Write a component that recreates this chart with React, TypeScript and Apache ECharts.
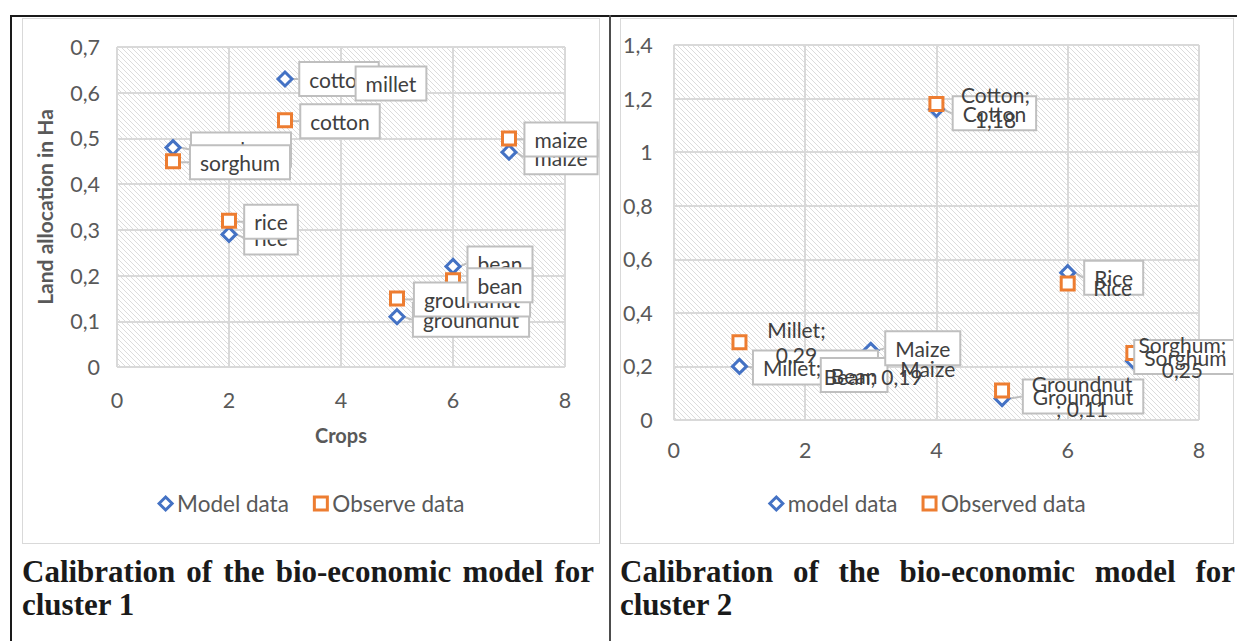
import React, { useEffect, useRef } from 'react';
import * as echarts from 'echarts';

const FONT = 'Lato, "Noto Sans", sans-serif';
const BLUE = '#4472C4';
const ORANGE = '#ED7D31';
const TEXT = '#595959';
const LABEL_TEXT = '#404040';

// ---------- Cluster 1 data ----------
const c1X = [1, 2, 3, 4, 5, 6, 7];
const c1Crops = ['sorghum', 'rice', 'cotton', 'millet', 'groundnut', 'bean', 'maize'];
const c1Model = [0.48, 0.29, 0.63, 0.62, 0.11, 0.22, 0.47];
const c1Observed = [0.45, 0.32, 0.54, null, 0.15, 0.19, 0.5];
const c1ModelLabels = ['sorghum', 'rice', 'cotton', 'millet', 'groundnut', 'bean', 'maize'];
const c1ObservedLabels = ['sorghum', 'rice', 'cotton', '', 'groundnut', 'bean', 'maize'];
const c1Legend = ['Model data', 'Observe data'];

// ---------- Cluster 2 data ----------
const c2X = [1, 2, 3, 4, 5, 6, 7];
const c2Crops = ['Millet', 'Bean', 'Maize', 'Cotton', 'Groundnut', 'Rice', 'Sorghum'];
const c2Model = [0.2, 0.19, 0.26, 1.16, 0.08, 0.55, 0.22];
const c2Observed = [0.29, 0.19, 0.19, 1.18, 0.11, 0.51, 0.25];
const c2ModelLabels = ['Millet; 0,20', 'Bean', 'Maize', 'Cotton', 'Groundnut', 'Rice', 'Sorghum'];
const c2ObservedLabels = ['Millet;\n0,29', 'Bean; 0,19', 'Maize', 'Cotton;\n1,18', 'Groundnut\n; 0,11', 'Rice', 'Sorghum;\n0,25'];
const c2Legend = ['model data', 'Observed data'];

// label offsets (layout only): label centre relative to its point, in px
const c1ModelLabelOffsets = [[68, 2], [42, 3], [54, 0], [50, 0], [74, 3], [47, -3], [52, 5]];
const c1ObservedLabelOffsets = [[67, 1], [42, 1], [55, 1], [0, 0], [75, 1], [47, 5], [52, 1]];
const c2ModelLabelOffsets = [[76, 1], [49, 6], [52, -2], [58, 4], [81, -2], [46, 5], [52, -4]];
const c2ObservedLabelOffsets = [[57, 0], [68, 7], [57, -1], [59, 3], [80, 5], [45, 4], [49, 4]];

function makeHatch(): HTMLCanvasElement {
  const s = 5;
  const c = document.createElement('canvas');
  c.width = s;
  c.height = s;
  const ctx = c.getContext('2d')!;
  ctx.fillStyle = '#ffffff';
  ctx.fillRect(0, 0, s, s);
  ctx.strokeStyle = '#dcdcdc';
  ctx.lineWidth = 1;
  ctx.beginPath();
  ctx.moveTo(-1, -1);
  ctx.lineTo(s + 1, s + 1);
  ctx.moveTo(-1, s - 1);
  ctx.lineTo(1, s + 1);
  ctx.moveTo(s - 1, -1);
  ctx.lineTo(s + 1, 1);
  ctx.stroke();
  return c;
}

const fmt = (v: number) => String(+v.toFixed(2)).replace('.', ',');

function makeSeries(
  name: string,
  xs: number[],
  vals: (number | null)[],
  labels: string[],
  offsets: number[][],
  color: string,
  symbol: string,
  symbolSize: number,
  boxed: boolean
) {
  const items: { value: number[]; name: string; off: number[] }[] = [];
  vals.forEach((v, i) => {
    if (v == null) return;
    items.push({ value: [xs[i], v], name: labels[i], off: offsets[i] });
  });
  return {
    type: 'scatter',
    name,
    symbol,
    symbolSize,
    data: items.map((it) => ({ value: it.value, name: it.name })),
    itemStyle: { color: '#ffffff', borderColor: color, borderWidth: 3, opacity: 1 },
    label: {
      show: true,
      position: 'inside',
      formatter: (p: any) => p.name,
      fontFamily: FONT,
      fontSize: 21,
      lineHeight: 25,
      color: LABEL_TEXT,
      align: 'center',
      ...(boxed
        ? { backgroundColor: '#ffffff', borderColor: '#bfbfbf', borderWidth: 2, padding: [4, 9, 3, 9] }
        : {}),
    },
    labelLine: { show: boxed, lineStyle: { color: '#bfbfbf', width: 2 } },
    labelLayout: (p: any) => {
      const it = items[p.dataIndex];
      return it ? { dx: it.off[0], dy: it.off[1] } : {};
    },
    emphasis: { disabled: true },
  };
}

function buildOption(cfg: any, hatch: HTMLCanvasElement) {
  return {
    animation: false,
    textStyle: { fontFamily: FONT },
    grid: {
      show: true,
      left: cfg.grid[0],
      top: cfg.grid[1],
      width: cfg.grid[2],
      height: cfg.grid[3],
      borderWidth: 0,
      backgroundColor: { image: hatch, repeat: 'repeat', imageWidth: hatch.width, imageHeight: hatch.height },
    },
    legend: {
      data: [
        { name: cfg.legend[0], icon: 'diamond', itemStyle: { color: '#ffffff', borderColor: BLUE, borderWidth: 3 } },
        { name: cfg.legend[1], icon: 'rect', itemStyle: { color: '#ffffff', borderColor: ORANGE, borderWidth: 3 } },
      ],
      bottom: cfg.legendBottom,
      left: 'center',
      itemWidth: 13,
      itemHeight: 13,
      itemGap: 24,
      textStyle: { fontFamily: FONT, fontSize: 22.5, color: TEXT },
    },
    xAxis: {
      type: 'value',
      min: 0,
      max: 8,
      interval: 2,
      name: cfg.xName,
      nameLocation: 'middle',
      nameGap: cfg.xNameGap,
      nameTextStyle: { fontFamily: FONT, fontSize: 20, fontWeight: 'bold', color: TEXT },
      axisLine: { show: false },
      axisTick: { show: false },
      axisLabel: { fontFamily: FONT, fontSize: 21.5, color: TEXT, margin: cfg.xMargin, formatter: fmt },
      splitLine: { show: true, lineStyle: { color: '#d9d9d9', width: 2 } },
    },
    yAxis: {
      type: 'value',
      min: 0,
      max: cfg.yMax,
      interval: cfg.yInterval,
      name: cfg.yName,
      nameLocation: 'middle',
      nameGap: cfg.yNameGap,
      nameTextStyle: { fontFamily: FONT, fontSize: 21, fontWeight: 'bold', color: TEXT },
      axisLine: { show: false },
      axisTick: { show: false },
      axisLabel: { fontFamily: FONT, fontSize: 21.5, color: TEXT, margin: cfg.yMargin, formatter: fmt },
      splitLine: { show: true, lineStyle: { color: '#d9d9d9', width: 2 } },
    },
    series: [
      makeSeries(cfg.legend[0], cfg.x, cfg.model, cfg.modelLabels, cfg.modelOffsets, BLUE, 'diamond', 14, true),
      makeSeries(cfg.legend[1], cfg.x, cfg.observed, cfg.observedLabels, cfg.observedOffsets, ORANGE, 'rect', 13, cfg.observedBoxed),
    ],
  };
}

const line = (l: number, t: number, w: number, h: number, c: string) => (
  <div style={{ position: 'absolute', left: l, top: t, width: w, height: h, background: c }} />
);

export default function App() {
  const r1 = useRef<HTMLDivElement>(null);
  const r2 = useRef<HTMLDivElement>(null);

  useEffect(() => {
    const hatch = makeHatch();
    const c1 = echarts.init(r1.current!, null, { renderer: 'svg' });
    const c2 = echarts.init(r2.current!, null, { renderer: 'svg' });
    c1.setOption(
      buildOption(
        {
          grid: [95, 29, 448, 320],
          legend: c1Legend,
          legendBottom: 24,
          x: c1X,
          model: c1Model,
          observed: c1Observed,
          modelLabels: c1ModelLabels,
          observedLabels: c1ObservedLabels,
          modelOffsets: c1ModelLabelOffsets,
          observedOffsets: c1ObservedLabelOffsets,
          observedBoxed: true,
          yMax: 0.7,
          yInterval: 0.1,
          xName: 'Crops',
          xNameGap: 58,
          yName: 'Land allocation in Ha',
          yNameGap: 62,
          xMargin: 22,
          yMargin: 17,
        },
        hatch
      )
    );
    c2.setOption(
      buildOption(
        {
          grid: [52, 27, 527, 375],
          legend: c2Legend,
          legendBottom: 24,
          x: c2X,
          model: c2Model,
          observed: c2Observed,
          modelLabels: c2ModelLabels,
          observedLabels: c2ObservedLabels,
          modelOffsets: c2ModelLabelOffsets,
          observedOffsets: c2ObservedLabelOffsets,
          observedBoxed: false,
          yMax: 1.4,
          yInterval: 0.2,
          xName: '',
          xNameGap: 30,
          yName: '',
          yNameGap: 30,
          xMargin: 19,
          yMargin: 21,
        },
        hatch
      )
    );
    return () => {
      c1.dispose();
      c2.dispose();
    };
  }, []);

  const caption: React.CSSProperties = {
    position: 'absolute',
    top: 555,
    fontFamily: '"Liberation Serif", "Times New Roman", serif',
    fontWeight: 'bold',
    fontSize: 31,
    lineHeight: '33px',
    textAlign: 'justify',
    color: '#1a1a1a',
  };

  return (
    <div style={{ position: 'absolute', left: 0, top: 0, width: 1237, height: 641, background: '#fff', overflow: 'hidden' }}>
      {line(10, 15, 1227, 2, '#1a1a1a')}
      {line(10, 15, 2, 626, '#1a1a1a')}
      {line(609, 15, 2, 626, '#4d4d4d')}
      <div ref={r1} style={{ position: 'absolute', left: 22, top: 18, width: 578, height: 526 }} />
      <div ref={r2} style={{ position: 'absolute', left: 620, top: 18, width: 614, height: 526 }} />
      <div style={{ position: 'absolute', left: 22, top: 18, width: 576, height: 524, border: '1px solid #d9d9d9', pointerEvents: 'none' }} />
      <div style={{ position: 'absolute', left: 620, top: 18, width: 612, height: 524, border: '1px solid #d9d9d9', pointerEvents: 'none' }} />
      <div style={{ ...caption, left: 22, width: 572 }}>Calibration of the bio-economic model for cluster 1</div>
      <div style={{ ...caption, left: 620, width: 615 }}>Calibration of the bio-economic model for cluster 2</div>
    </div>
  );
}
